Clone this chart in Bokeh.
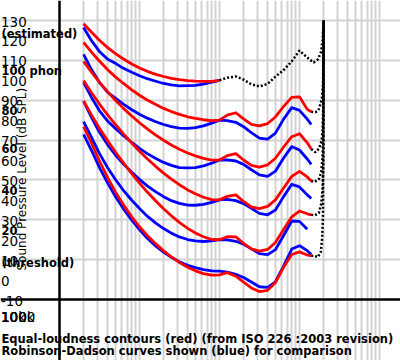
import math
from bokeh.plotting import figure
from bokeh.models import Range1d, Label, FixedTicker, Grid
from bokeh.embed import file_html
from bokeh.resources import INLINE

# ---------------- data ----------------
freqs = [20, 25, 31.5, 40, 50, 63, 80, 100, 125, 160, 200, 250, 315, 400, 500, 630,
         800, 1000, 1250, 1600, 2000, 2500, 3150, 4000, 5000, 6300, 8000, 10000, 12500, 14000]

# ISO 226:2003 contours (red)
iso_thr = [76.8, 68.7, 59.5, 51.1, 44.0, 37.5, 31.5, 26.5, 22.1, 17.9, 14.4, 11.4, 8.6, 6.2, 4.4, 3.0,
           2.2, 2.4, 3.5, 1.7, -1.3, -4.2, -6.0, -5.4, -1.5, 6.0, 12.6, 13.9, 12.3, 12.0]
iso_20 = [89.6, 82.7, 76.0, 69.6, 64.0, 58.6, 53.2, 48.4, 43.9, 39.4, 35.5, 32.0, 28.7, 25.7, 23.4, 21.5,
          20.1, 20.0, 21.5, 21.4, 18.2, 15.4, 14.3, 15.1, 18.6, 25.0, 31.5, 34.4, 33.0, 32.5]
iso_40 = [99.9, 93.9, 88.2, 82.6, 77.8, 73.1, 68.5, 64.4, 60.6, 56.7, 53.4, 50.4, 47.6, 45.0, 43.1, 41.3,
          40.1, 40.0, 41.8, 42.5, 39.2, 36.5, 35.6, 36.7, 40.0, 45.8, 51.8, 54.3, 51.5, 49.5]
iso_60 = [109.5, 104.2, 99.1, 94.2, 90.0, 85.9, 82.1, 78.7, 75.6, 72.5, 69.9, 67.5, 65.4, 63.5, 62.1, 60.8,
          59.9, 60.0, 62.2, 63.2, 60.0, 57.3, 56.4, 57.6, 60.9, 66.4, 71.7, 73.2, 68.6, 65.5]
iso_80 = [119.0, 114.2, 109.7, 105.3, 101.7, 98.4, 95.2, 92.5, 90.1, 87.8, 85.9, 84.3, 82.9, 81.7, 80.9, 80.2,
          79.7, 80.0, 82.5, 83.7, 80.6, 77.9, 77.1, 78.3, 81.6, 86.8, 91.4, 91.7, 85.4, 84.2]
iso_100 = [128.4, 124.2, 120.1, 116.4, 113.4, 110.7, 108.2, 106.2, 104.5, 103.0, 101.9, 101.0, 100.3, 99.8,
           99.6, 99.5, 99.4, 100.0]

# Robinson-Dadson curves (blue)
rd_thr = [72.8, 65.0, 56.3, 48.4, 41.7, 35.5, 29.8, 25.1, 20.7, 16.8, 13.8, 11.2, 8.9, 7.2, 6.0, 5.0,
          4.4, 4.2, 3.7, 2.6, 1.0, -1.2, -3.6, -3.9, -1.1, 6.6, 15.3, 17.0, 14.5, 12.6]
rd_20 = [79.3, 71.5, 63.3, 56.1, 50.2, 44.8, 39.8, 35.7, 31.8, 28.3, 25.6, 23.3, 21.4, 20.1, 19.4, 19.1,
         19.4, 20.0, 19.9, 19.2, 17.7, 15.4, 13.0, 12.5, 15.0, 22.0, 29.4, 29.2, 25.3]
rd_40 = [89.5, 81.5, 74.0, 67.6, 62.5, 58.0, 53.8, 50.3, 47.0, 44.0, 41.6, 39.6, 38.2, 37.4, 37.3, 37.7,
         38.7, 40.0, 40.2, 39.6, 38.1, 35.7, 33.2, 32.5, 34.9, 41.5, 47.8, 46.5, 42.5, 40.7]
rd_60 = [99.0, 91.5, 84.8, 79.5, 75.8, 72.2, 68.8, 65.8, 63.2, 60.8, 58.8, 57.3, 56.2, 56.0, 56.2, 57.0,
         58.4, 60.0, 60.1, 59.5, 57.8, 55.1, 52.5, 51.8, 54.4, 60.9, 66.7, 65.0, 60.5, 57.8]
rd_80 = [113.0, 105.5, 99.0, 94.0, 91.0, 88.0, 85.2, 83.0, 81.0, 79.2, 77.8, 76.7, 76.0, 75.9, 76.2, 77.1,
         78.5, 80.0, 79.8, 78.9, 76.7, 73.7, 71.0, 70.5, 73.5, 80.4, 86.3, 84.9, 80.5, 77.8]
rd_100 = [126.5, 120.0, 114.5, 110.5, 108.5, 106.0, 104.0, 102.3, 100.8, 99.5, 98.4, 97.7, 97.2, 97.3,
          97.4, 98.1, 99.1, 100.0]

# dotted (estimated) extensions
dot100_f = [1000, 1250, 1600, 2000, 2500, 3150, 4000, 5000, 6300, 8000, 10000, 12500, 15000, 17000,
            18500, 19400, 20000]
dot100_l = [100.0, 101.3, 101.9, 100.3, 98.0, 96.9, 98.2, 101.8, 105.0, 109.5, 114.9, 111.4, 108.9,
            110.5, 114.0, 120.0, 130.0]
dot80_f = [14000, 15800, 17200, 18400, 19100, 19700, 20000]
dot80_l = [84.2, 84.0, 84.8, 88.4, 91.5, 98.4, 130.0]
dot60_f = [14000, 15800, 17600, 18900, 19400, 19900, 20000]
dot60_l = [65.5, 63.9, 65.8, 69.8, 74.8, 90.0, 130.0]
dot40_f = [14000, 15500, 17500, 18700, 19400, 19900, 20000]
dot40_l = [49.5, 49.0, 50.5, 54.0, 61.0, 75.0, 130.0]
dot20_f = [14000, 15500, 17500, 18700, 19400, 19900, 20000]
dot20_l = [32.5, 32.2, 33.5, 38.0, 45.0, 60.0, 130.0]
dotthr_f = [14000, 15000, 17000, 18500, 19200, 19700, 20000]
dotthr_l = [12.0, 12.0, 11.3, 14.0, 21.0, 33.0, 130.0]

y_ticks = [130, 120, 110, 100, 90, 80, 70, 60, 50, 40, 30, 20, 10, 0, -10]
x_tick_labels = ["10", "100", "1000", "10k", "100k"]
phon_labels = ["(estimated)", "100 phon", "80", "60", "40", "20", "(threshold)"]
title1 = "Equal-loudness contours (red) (from ISO 226 :2003 revision)"
title2 = "Robinson-Dadson curves shown (blue) for comparison"
ylabel = "Sound Pressure Level (dB SPL)"

# ---------------- layout ----------------
W, H = 400, 360
FL, FR, FT, FB = 59, 379, 20, 299          # plot area inside the canvas (px)
X0, X1, Y0, Y1 = 10, 100000, -10, 130      # plot area in data units
LX0, LX1 = math.log10(X0), math.log10(X1)


def px2x(px):
    return 10 ** (LX0 + (px - FL) / (FR - FL) * (LX1 - LX0))


def py2y(py):
    return Y1 - (py - FT) / (FB - FT) * (Y1 - Y0)


# the frame covers the whole canvas so that texts outside the plot area are not clipped
p = figure(width=W, height=H, x_axis_type="log",
           x_range=Range1d(px2x(0), px2x(W)), y_range=Range1d(py2y(H), py2y(0)),
           x_axis_location=None, y_axis_location=None, title_location=None,
           output_backend="svg", toolbar_location=None,
           min_border_left=0, min_border_right=0, min_border_top=0, min_border_bottom=0,
           background_fill_color="white", border_fill_color="white", outline_line_color=None)

for r in list(p.center):
    if isinstance(r, Grid):
        r.visible = False

xg = []
for dec in (10, 100, 1000, 10000):
    for m in range(2, 10):
        xg.append(dec * m)
    xg.append(dec * 10)
p.add_layout(Grid(dimension=0, ticker=FixedTicker(ticks=xg), bounds=(Y0, Y1),
                  grid_line_color="#d3d3d3", grid_line_width=2))
p.add_layout(Grid(dimension=1, ticker=FixedTicker(ticks=[10, 30, 50, 70, 90, 110, 130]), bounds=(X0, X1),
                  grid_line_color="#d3d3d3", grid_line_width=2))
# axis lines
p.add_layout(Grid(dimension=0, ticker=FixedTicker(ticks=[X0]), bounds=(Y0, Y1),
                  grid_line_color="black", grid_line_width=2.5))
p.add_layout(Grid(dimension=1, ticker=FixedTicker(ticks=[Y0]), bounds=(X0, X1),
                  grid_line_color="black", grid_line_width=2.5))

LW = 2.8
for ys in (rd_thr, rd_20, rd_40, rd_60, rd_80, rd_100):
    p.line(freqs[:len(ys)], ys, line_color="blue", line_width=LW, line_join="round")
for ys in (iso_thr, iso_20, iso_40, iso_60, iso_80, iso_100):
    p.line(freqs[:len(ys)], ys, line_color="red", line_width=LW, line_join="round")

for fx, ly in ((dot100_f, dot100_l), (dot80_f, dot80_l), (dot60_f, dot60_l), (dot40_f, dot40_l),
               (dot20_f, dot20_l), (dotthr_f, dotthr_l)):
    p.line(fx, ly, line_color="black", line_width=2.5, line_dash="2 2")

FONT = "DejaVu Sans"


def add_label(px, py, text, size, bold=False, align="left", baseline="middle", angle=0.0):
    p.add_layout(Label(x=px2x(px), y=py2y(py), x_units="data", y_units="data", text=text,
                       text_font=FONT, text_font_size=size,
                       text_font_style="bold" if bold else "normal",
                       text_align=align, text_baseline=baseline, angle=angle, text_color="black"))


for v in y_ticks:
    py = FT + (Y1 - v) / (Y1 - Y0) * (FB - FT) + 1
    add_label(0.5, py, str(v), "13.5px")

for t in x_tick_labels:
    add_label(0.5, 316, t, "13.5px")

# rotated axis title, anchored at its start (bottom end)
add_label(21.5, 270, ylabel, "12px", angle=math.pi / 2, align="left", baseline="alphabetic")

phon_y = [33, 70, 110, 148, 190, 230, 262]
for t, py in zip(phon_labels, phon_y):
    add_label(1, py, t, "11.5px", bold=True)

add_label(1, 338.5, title1, "11.5px", bold=True, baseline="alphabetic")
add_label(1, 350.5, title2, "11.5px", bold=True, baseline="alphabetic")

open("out.html", "w").write(file_html(p, INLINE))
